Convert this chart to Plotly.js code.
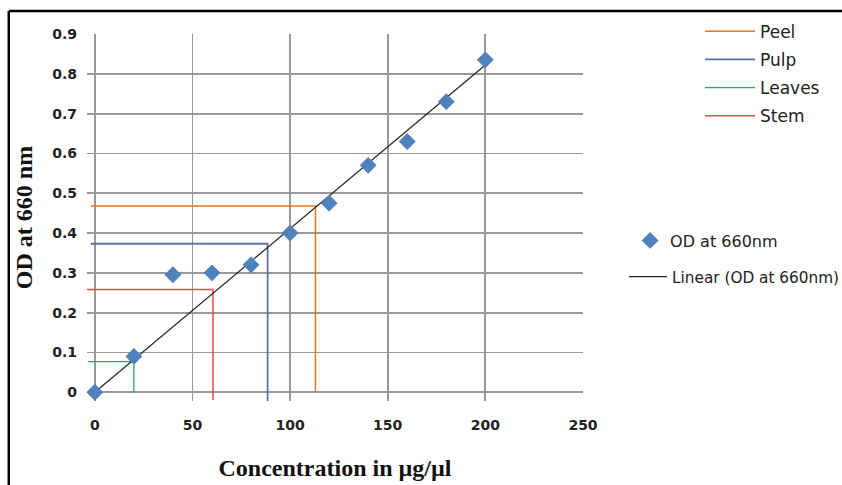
<!DOCTYPE html>
<html>
<head>
<meta charset="utf-8">
<script src="https://cdn.plot.ly/plotly-3.0.1.min.js"></script>
<style>
html,body{margin:0;padding:0;background:#fff;}
#chart{width:842px;height:485px;}
</style>
</head>
<body>
<div id="chart"></div>
<script>
// Standard curve data
const concentration = [0, 20, 40, 60, 80, 100, 120, 140, 160, 180, 200];
const odValues = [0, 0.09, 0.295, 0.30, 0.32, 0.40, 0.475, 0.57, 0.63, 0.73, 0.835];

// Linear trendline endpoints (as drawn)
const trendX = [0, 200];
const trendY = [0, 0.822];

// Read-off guide lines for each sample
const peelX = [-2, 113, 113];
const peelY = [0.468, 0.468, 0];
const pulpX = [-2, 88.5, 88.5];
const pulpY = [0.373, 0.373, -0.022];
const leavesX = [-3.5, 20, 20];
const leavesY = [0.077, 0.077, 0];
const stemX = [-4, 60.5, 60.5];
const stemY = [0.258, 0.258, -0.02];

const xTicks = [0, 50, 100, 150, 200, 250];
const yTicks = [0, 0.1, 0.2, 0.3, 0.4, 0.5, 0.6, 0.7, 0.8, 0.9];
const yTickText = ['0', '0.1', '0.2', '0.3', '0.4', '0.5', '0.6', '0.7', '0.8', '0.9'];

const traces = [
  {x: peelX, y: peelY, mode: 'lines', name: 'Peel', legendgroup: 'peel', line: {color: '#E8771E', width: 1.5}, legend: 'legend'},
  {x: pulpX, y: pulpY, mode: 'lines', name: 'Pulp', legendgroup: 'pulp', line: {color: '#5A73A6', width: 1.8}, legend: 'legend'},
  {x: leavesX, y: leavesY, mode: 'lines', name: 'Leaves', legendgroup: 'leaves', line: {color: '#22B055', width: 1.3}, legend: 'legend'},
  {x: stemX, y: stemY, mode: 'lines', name: 'Stem', legendgroup: 'stem', line: {color: '#FF4444', width: 1.5}, legend: 'legend'},
  {x: trendX, y: trendY, mode: 'lines', name: 'Linear (OD at 660nm)', line: {color: '#222222', width: 1.2}, legend: 'legend3'},
  {x: concentration, y: odValues, mode: 'markers', name: 'OD at 660nm',
   marker: {symbol: 'diamond', size: 13, color: '#4F81BD'}, legend: 'legend2', cliponaxis: false}
];

const legendFont = {family: 'DejaVu Sans', size: 17, color: '#222'};

const layout = {
  width: 842, height: 485,
  margin: {l: 87, r: 259, t: 34, b: 84, autoexpand: false},
  paper_bgcolor: '#ffffff', plot_bgcolor: '#ffffff',
  xaxis: {
    range: [-4, 250], tickvals: xTicks, ticktext: xTicks.map(String),
    showgrid: true, gridcolor: '#999999', gridwidth: 1.8, zeroline: false, showline: false,
    ticks: '', ticklabelstandoff: 14,
    tickfont: {family: 'DejaVu Sans', size: 14, color: '#222', weight: 'bold'},
    title: {text: 'Concentration in µg/µl', standoff: 27,
            font: {family: 'Liberation Serif', size: 24, color: '#111', weight: 'bold'}},
    automargin: false
  },
  yaxis: {
    range: [-0.022, 0.9], tickvals: yTicks, ticktext: yTickText,
    showgrid: true, gridcolor: '#999999', gridwidth: 1.8, zeroline: false, showline: false,
    ticks: '', ticklabelstandoff: 9,
    tickfont: {family: 'DejaVu Sans', size: 14, color: '#222', weight: 'bold'},
    title: {text: 'OD at 660 nm', standoff: 12,
            font: {family: 'Liberation Serif', size: 24, color: '#111', weight: 'bold'}},
    automargin: false
  },
  showlegend: true,
  legend: {x: 1.236, y: 1.055, xanchor: 'left', yanchor: 'top', bgcolor: 'rgba(0,0,0,0)',
           font: legendFont, itemwidth: 50, traceorder: 'grouped', tracegroupgap: 3},
  legend2: {x: 1.095, y: 0.4836, xanchor: 'left', yanchor: 'top', bgcolor: 'rgba(0,0,0,0)',
            font: {family: 'DejaVu Sans', size: 16, color: '#222'}},
  legend3: {x: 1.0827, y: 0.3836, xanchor: 'left', yanchor: 'top', bgcolor: 'rgba(0,0,0,0)',
            font: {family: 'DejaVu Sans', size: 15.3, color: '#222'}, itemwidth: 38},
  shapes: [
    {type: 'line', xref: 'paper', yref: 'paper', x0: -0.1577, x1: 1.53, y0: 1.0627, y1: 1.0627,
     line: {color: '#000', width: 2.5}},
    {type: 'line', xref: 'paper', yref: 'paper', x0: -0.1577, x1: -0.1577, y0: 1.0627, y1: -0.25,
     line: {color: '#000', width: 2.5}}
  ]
};

Plotly.newPlot('chart', traces, layout, {displayModeBar: false, staticPlot: true});
</script>
</body>
</html>
